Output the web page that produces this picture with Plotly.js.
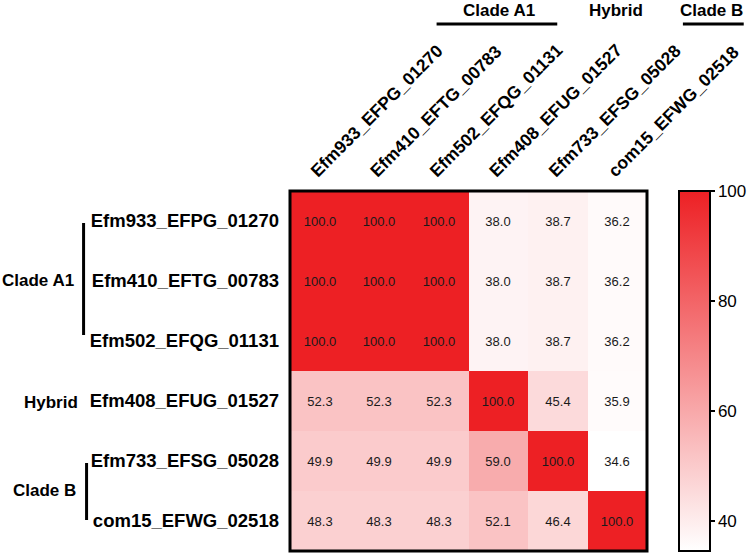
<!DOCTYPE html>
<html>
<head>
<meta charset="utf-8">
<script src="https://cdn.plot.ly/plotly-3.0.1.min.js"></script>
<style>html,body{margin:0;padding:0;background:#fff;}#chart{width:750px;height:554px;}</style>
</head>
<body>
<div id="chart"></div>
<script>
const genes = ["Efm933_EFPG_01270","Efm410_EFTG_00783","Efm502_EFQG_01131","Efm408_EFUG_01527","Efm733_EFSG_05028","com15_EFWG_02518"];
const row1 = [100.0,100.0,100.0,38.0,38.7,36.2];
const row2 = [100.0,100.0,100.0,38.0,38.7,36.2];
const row3 = [100.0,100.0,100.0,38.0,38.7,36.2];
const row4 = [52.3,52.3,52.3,100.0,45.4,35.9];
const row5 = [49.9,49.9,49.9,59.0,100.0,34.6];
const row6 = [48.3,48.3,48.3,52.1,46.4,100.0];
const colorTicks = [40,60,80,100];
const groupNames = ["Clade A1","Hybrid","Clade B"];

const z = [row1,row2,row3,row4,row5,row6];
const L = 290, R = 648, T = 191, B = 551, W = 750, H = 554;
const px = x => (x - L) / (R - L);
const py = y => (B - y) / (B - T);
const boldFont = {family: "Liberation Sans, Arial, sans-serif", size: 17, color: "#000", weight: "bold"};
const tickBoldY = {family: "Liberation Sans, Arial, sans-serif", size: 18.5, color: "#000", weight: "bold"};
const tickBoldX = {family: "Liberation Sans, Arial, sans-serif", size: 17.5, color: "#000", weight: "bold"};

const trace = {
  type: "heatmap",
  x: genes, y: genes, z: z,
  zmin: 34.6, zmax: 100,
  colorscale: [[0, "#ffffff"], [1, "#ED2024"]],
  xgap: 0, ygap: 0,
  texttemplate: "%{z:.1f}",
  textfont: {family: "Liberation Sans, Arial, sans-serif", size: 13, color: "#1a1a1a"},
  hoverinfo: "skip",
  colorbar: {
    x: px(679), xanchor: "left", xref: "paper",
    y: 0, yanchor: "bottom", len: 1, lenmode: "fraction",
    thickness: 31, thicknessmode: "pixels",
    outlinewidth: 2, outlinecolor: "#000",
    tickvals: colorTicks, ticktext: colorTicks.map(String),
    ticks: "outside", ticklen: 4, tickwidth: 2, tickcolor: "#000",
    tickfont: {family: "Liberation Sans, Arial, sans-serif", size: 17, color: "#000"},
    xpad: 0, ypad: 0
  }
};

const annotations = [
  {text: groupNames[0], x: px(500), y: py(10), xref: "paper", yref: "paper", showarrow: false, font: boldFont, xanchor: "center", yanchor: "middle"},
  {text: groupNames[1], x: px(617), y: py(10), xref: "paper", yref: "paper", showarrow: false, font: boldFont, xanchor: "center", yanchor: "middle"},
  {text: groupNames[2], x: px(713), y: py(10), xref: "paper", yref: "paper", showarrow: false, font: boldFont, xanchor: "center", yanchor: "middle"},
  {text: groupNames[0], x: px(75), y: py(280), xref: "paper", yref: "paper", showarrow: false, font: boldFont, xanchor: "right", yanchor: "middle"},
  {text: groupNames[1], x: px(79), y: py(402), xref: "paper", yref: "paper", showarrow: false, font: boldFont, xanchor: "right", yanchor: "middle"},
  {text: groupNames[2], x: px(77), y: py(490), xref: "paper", yref: "paper", showarrow: false, font: boldFont, xanchor: "right", yanchor: "middle"}
];

const lineStyle = {color: "#000", width: 3};
const shapes = [
  {type: "line", xref: "paper", yref: "paper", x0: px(437), x1: px(558), y0: py(24), y1: py(24), line: lineStyle},
  {type: "line", xref: "paper", yref: "paper", x0: px(684), x1: px(745), y0: py(24), y1: py(24), line: lineStyle},
  {type: "line", xref: "paper", yref: "paper", x0: px(83), x1: px(83), y0: py(223), y1: py(335), line: lineStyle},
  {type: "line", xref: "paper", yref: "paper", x0: px(86), x1: px(86), y0: py(463), y1: py(520), line: lineStyle},
  {type: "rect", xref: "paper", yref: "paper", x0: 0, x1: 1, y0: 0, y1: 1, line: {color: "#000", width: 3}, layer: "above"}
];

const layout = {
  width: W, height: H,
  margin: {l: L, r: W - R, t: T, b: H - B, pad: 0},
  paper_bgcolor: "#fff", plot_bgcolor: "#fff",
  xaxis: {side: "top", tickangle: -45, tickfont: tickBoldX, ticks: "", showgrid: false, zeroline: false, showline: false, ticklabelstandoff: 6, ticklabelshift: -8, automargin: false},
  yaxis: {autorange: "reversed", tickfont: tickBoldY, ticks: "", showgrid: false, zeroline: false, showline: false, ticklabelstandoff: 10, automargin: false},
  annotations: annotations,
  shapes: shapes,
  showlegend: false
};

Plotly.newPlot("chart", [trace], layout, {displayModeBar: false, staticPlot: true});
</script>
</body>
</html>
